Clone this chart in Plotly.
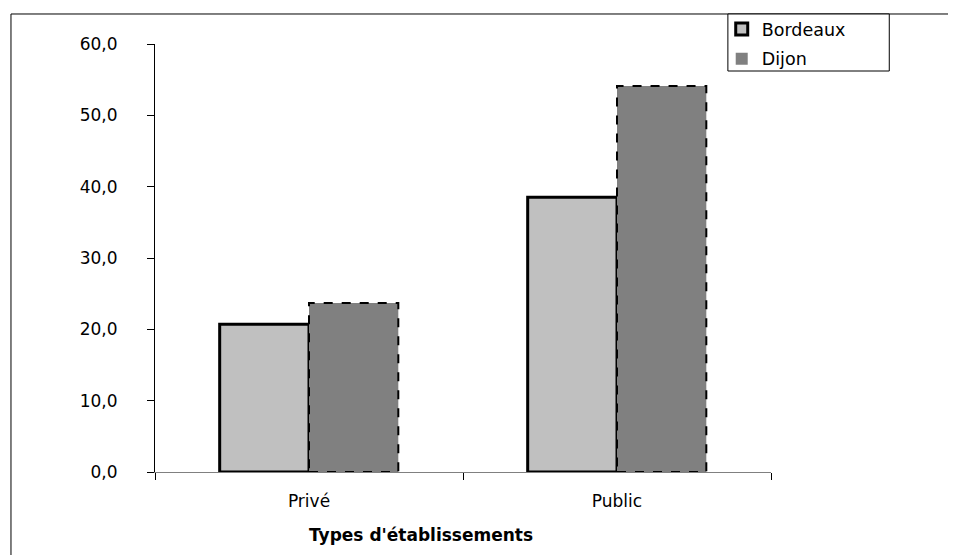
import plotly.graph_objects as go

categories = ["Privé", "Public"]
bordeaux = [20.7, 38.5]
dijon = [23.7, 54.1]
y_ticks = [0, 10, 20, 30, 40, 50, 60]
y_tick_labels = ["0,0", "10,0", "20,0", "30,0", "40,0", "50,0", "60,0"]
x_title = "Types d'établissements"

FONT = "DejaVu Sans"
BARGAP = 0.42

fig = go.Figure()
fig.add_trace(go.Bar(
    name="Bordeaux", x=categories, y=bordeaux, legendgroup="b",
    marker=dict(color="#C0C0C0", line=dict(color="black", width=3)),
))
fig.add_trace(go.Bar(
    name="Dijon", x=categories, y=dijon, legendgroup="d",
    marker=dict(color="#808080", line=dict(color="black", width=0)),
))

# dashed outlines for Dijon bars, derived from the data and bar geometry
half = (1 - BARGAP) / 2
for i, v in enumerate(dijon):
    fig.add_shape(type="rect", xref="x", yref="y",
                  x0=i, x1=i + half, y0=0, y1=v,
                  line=dict(color="black", width=2, dash="dash"),
                  fillcolor="rgba(0,0,0,0)", layer="above")

# outer chart frame (right/bottom edges cropped out in the reference)
fig.add_shape(type="rect", xref="paper", yref="paper",
              x0=-0.2338, x1=1.6, y0=-0.4, y1=1.0701,
              line=dict(color="black", width=1), fillcolor="rgba(0,0,0,0)",
              layer="below")
# legend frame
fig.add_shape(type="rect", xref="paper", yref="paper",
              x0=0.930, x1=1.192, y0=0.9369, y1=1.0701,
              line=dict(color="black", width=1), fillcolor="white",
              layer="below")

fig.add_annotation(text="<b>" + x_title + "</b>", xref="paper", yref="paper",
                   x=0.432, y=-0.148, xanchor="center", yanchor="middle",
                   showarrow=False, font=dict(family=FONT, size=17, color="black"))

fig.update_layout(
    width=956, height=555,
    margin=dict(l=147, r=193, t=36, b=91, autoexpand=False),
    paper_bgcolor="white", plot_bgcolor="white",
    barmode="group", bargap=BARGAP, bargroupgap=0,
    font=dict(family=FONT, size=17, color="black"),
    showlegend=True,
    legend=dict(x=0.920, y=1.077, xanchor="left", yanchor="top",
                borderwidth=0, bgcolor="rgba(0,0,0,0)",
                font=dict(family=FONT, size=17.5, color="black"),
                itemwidth=30, tracegroupgap=4),
)
fig.update_xaxes(
    type="category", range=[-0.5, 1.5],
    showline=True, linecolor="#808080", linewidth=1,
    ticks="outside", tickson="boundaries", ticklen=7, tickcolor="black",
    showgrid=False, zeroline=False, ticklabelstandoff=14,
    tickfont=dict(family=FONT, size=17, color="black"),
)
fig.update_yaxes(
    range=[0, 60], tickvals=y_ticks, ticktext=y_tick_labels,
    showline=True, linecolor="black", linewidth=1,
    ticks="outside", ticklen=7, tickcolor="black",
    showgrid=False, zeroline=False, ticklabelstandoff=26,
    tickfont=dict(family=FONT, size=17, color="black"),
)

fig.write_html("out.html")
